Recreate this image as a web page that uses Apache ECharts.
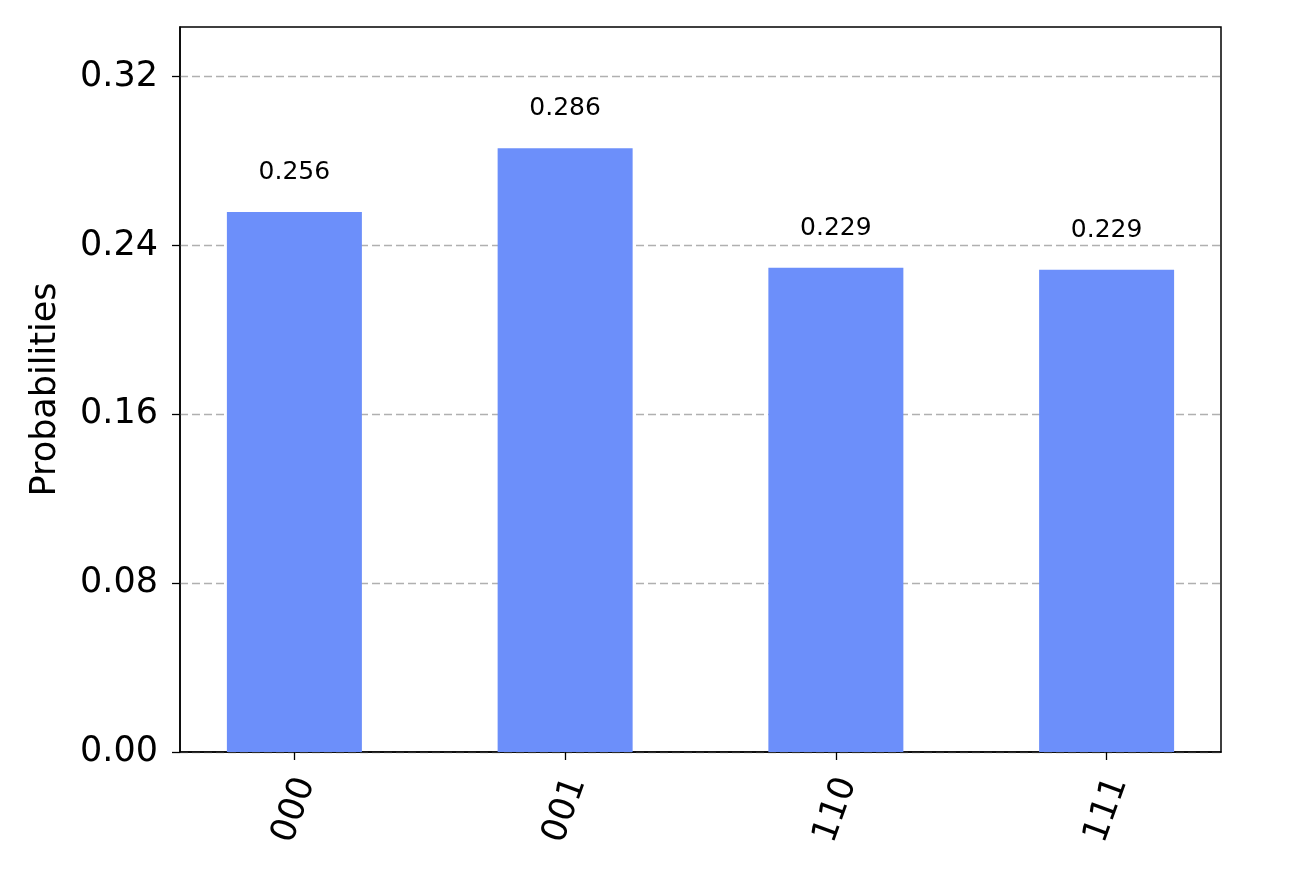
<!DOCTYPE html>
<html>
<head>
<meta charset="utf-8">
<script src="https://cdn.jsdelivr.net/npm/echarts@6/dist/echarts.min.js"></script>
<style>
html,body{margin:0;padding:0;background:#fff;}
#chart{width:1306px;height:878px;}
</style>
</head>
<body>
<div id="chart"></div>
<script>
const categories = ['000', '001', '110', '111'];
const probabilities = [0.2559, 0.2861, 0.2294, 0.2285];
const yTicks = [0, 0.08, 0.16, 0.24, 0.32];
const yAxisName = 'Probabilities';

const positions = categories.map((c, i) => i);
const chart = echarts.init(document.getElementById('chart'), null, {renderer: 'canvas'});
const font = 'DejaVu Sans';

chart.setOption({
  animation: false,
  backgroundColor: '#ffffff',
  grid: {
    left: 180, right: 85, top: 27, bottom: 126,
    show: true, borderColor: '#000', borderWidth: 1.5, backgroundColor: 'transparent'
  },
  xAxis: {
    type: 'value',
    min: -0.4225,
    max: 3.4225,
    axisLine: {show: true, onZero: false, lineStyle: {color: '#000', width: 1.5}},
    axisTick: {show: true, customValues: positions, length: 8, lineStyle: {color: '#000', width: 1.3}},
    axisLabel: {
      show: true,
      customValues: positions,
      formatter: v => categories[Math.round(v)],
      rotate: 70,
      align: 'center',
      verticalAlign: 'middle',
      margin: 58,
      fontSize: 35,
      fontFamily: font,
      color: '#000'
    },
    splitLine: {show: false}
  },
  yAxis: {
    type: 'value',
    min: 0,
    max: 0.3435,
    interval: 0.08,
    name: yAxisName,
    nameLocation: 'middle',
    nameRotate: 90,
    nameGap: 117,
    nameTextStyle: {fontSize: 35, fontFamily: font, color: '#000'},
    axisLine: {show: true, onZero: false, lineStyle: {color: '#000', width: 1.5}},
    axisTick: {show: true, customValues: yTicks, length: 8, lineStyle: {color: '#000', width: 1.3}},
    axisLabel: {
      customValues: yTicks,
      formatter: v => v.toFixed(2),
      margin: 22,
      fontSize: 35,
      fontFamily: font,
      color: '#000'
    },
    splitLine: {show: true, lineStyle: {color: '#b0b0b0', width: 1.3, type: [8, 4]}}
  },
  series: [{
    type: 'bar',
    data: probabilities.map((p, i) => [positions[i], p]),
    barWidth: 135,
    itemStyle: {color: '#6c8ffa'},
    label: {
      show: true,
      position: 'top',
      distance: 27,
      formatter: p => p.value[1].toFixed(3),
      fontSize: 25,
      fontFamily: font,
      color: '#000'
    }
  }]
});
</script>
</body>
</html>
